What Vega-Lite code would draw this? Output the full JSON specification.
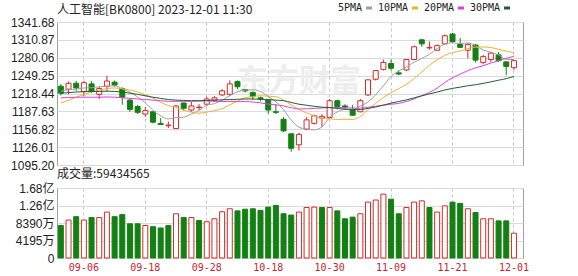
{
  "$schema": "https://vega.github.io/schema/vega-lite/v6.json",
  "background": "#ffffff",
  "padding": {"left": 5, "right": 5, "top": 2, "bottom": 0},
  "datasets": {
    "kline": [
      {"d": "09-01", "o": 1231, "h": 1235, "l": 1215, "c": 1219, "chg": -5, "v": 78000000, "5PMA": 1222, "10PMA": 1202, "20PMA": 1211, "30PMA": 1219},
      {"d": "09-04", "o": 1226, "h": 1239, "l": 1217, "c": 1236, "chg": 17, "v": 91000000, "5PMA": 1225, "10PMA": 1207, "20PMA": 1211.5, "30PMA": 1220},
      {"d": "09-05", "o": 1236, "h": 1240, "l": 1223, "c": 1228, "chg": -8, "v": 99000000, "5PMA": 1226, "10PMA": 1212, "20PMA": 1212, "30PMA": 1221},
      {"d": "09-06", "o": 1222, "h": 1240, "l": 1214, "c": 1237, "chg": 9, "v": 91000000, "5PMA": 1228, "10PMA": 1217, "20PMA": 1212, "30PMA": 1221.5},
      {"d": "09-07", "o": 1235, "h": 1240, "l": 1219, "c": 1222, "chg": -15, "v": 97000000, "5PMA": 1228.4, "10PMA": 1221, "20PMA": 1212, "30PMA": 1222},
      {"d": "09-08", "o": 1217, "h": 1230, "l": 1209, "c": 1227, "chg": 5, "v": 97000000, "5PMA": 1230.0, "10PMA": 1224, "20PMA": 1212, "30PMA": 1222},
      {"d": "09-11", "o": 1231, "h": 1249, "l": 1222, "c": 1240, "chg": 13, "v": 110000000, "5PMA": 1230.8, "10PMA": 1227, "20PMA": 1212.5, "30PMA": 1222.5},
      {"d": "09-12", "o": 1238, "h": 1241, "l": 1230, "c": 1233, "chg": -7, "v": 99000000, "5PMA": 1231.8, "10PMA": 1228, "20PMA": 1212, "30PMA": 1222},
      {"d": "09-13", "o": 1227, "h": 1229, "l": 1199, "c": 1212, "chg": -21, "v": 104000000, "5PMA": 1226.8, "10PMA": 1226.5, "20PMA": 1211, "30PMA": 1221},
      {"d": "09-14", "o": 1207, "h": 1209, "l": 1187, "c": 1191, "chg": -21, "v": 82000000, "5PMA": 1220.6, "10PMA": 1224.5, "20PMA": 1210, "30PMA": 1219},
      {"d": "09-15", "o": 1196, "h": 1199, "l": 1183, "c": 1186, "chg": -5, "v": 82000000, "5PMA": 1212.4, "10PMA": 1221.2, "20PMA": 1209, "30PMA": 1217},
      {"d": "09-18", "o": 1183, "h": 1195, "l": 1178, "c": 1189, "chg": 3, "v": 78000000, "5PMA": 1202.2, "10PMA": 1216.5, "20PMA": 1208, "30PMA": 1214.5},
      {"d": "09-19", "o": 1187, "h": 1187, "l": 1167, "c": 1169, "chg": -20, "v": 75000000, "5PMA": 1189.4, "10PMA": 1210.6, "20PMA": 1207, "30PMA": 1212},
      {"d": "09-20", "o": 1167, "h": 1176, "l": 1164, "c": 1165, "chg": -4, "v": 72000000, "5PMA": 1180.0, "10PMA": 1203.4, "20PMA": 1206, "30PMA": 1210},
      {"d": "09-21", "o": 1163, "h": 1170, "l": 1159, "c": 1164, "chg": -1, "v": 78000000, "5PMA": 1174.6, "10PMA": 1197.6, "20PMA": 1205, "30PMA": 1208},
      {"d": "09-22", "o": 1158, "h": 1199, "l": 1158, "c": 1197, "chg": 33, "v": 106000000, "5PMA": 1176.8, "10PMA": 1194.6, "20PMA": 1205, "30PMA": 1207},
      {"d": "09-25", "o": 1202, "h": 1203, "l": 1189, "c": 1193, "chg": -4, "v": 97000000, "5PMA": 1177.6, "10PMA": 1189.9, "20PMA": 1205, "30PMA": 1206.5},
      {"d": "09-26", "o": 1190, "h": 1204, "l": 1187, "c": 1197, "chg": 4, "v": 97000000, "5PMA": 1183.2, "10PMA": 1186.3, "20PMA": 1205, "30PMA": 1206},
      {"d": "09-27", "o": 1194, "h": 1200, "l": 1190, "c": 1195, "chg": -2, "v": 90000000, "5PMA": 1189.2, "10PMA": 1184.6, "20PMA": 1205.5, "30PMA": 1206},
      {"d": "09-28", "o": 1200, "h": 1213, "l": 1197, "c": 1209, "chg": 14, "v": 87000000, "5PMA": 1198.2, "10PMA": 1186.4, "20PMA": 1205.5, "30PMA": 1206.5},
      {"d": "10-09", "o": 1207, "h": 1214, "l": 1204, "c": 1211, "chg": 2, "v": 94000000, "5PMA": 1201.0, "10PMA": 1188.9, "20PMA": 1205.1, "30PMA": 1207},
      {"d": "10-10", "o": 1216, "h": 1226, "l": 1214, "c": 1223, "chg": 12, "v": 111000000, "5PMA": 1207.0, "10PMA": 1192.3, "20PMA": 1204.5, "30PMA": 1207.5},
      {"d": "10-11", "o": 1217, "h": 1241, "l": 1214, "c": 1235, "chg": 12, "v": 118000000, "5PMA": 1214.6, "10PMA": 1198.9, "20PMA": 1204.8, "30PMA": 1208},
      {"d": "10-12", "o": 1239, "h": 1241, "l": 1226, "c": 1230, "chg": -5, "v": 113000000, "5PMA": 1221.6, "10PMA": 1205.4, "20PMA": 1204.5, "30PMA": 1208.5},
      {"d": "10-13", "o": 1225, "h": 1226, "l": 1220, "c": 1223, "chg": -7, "v": 117000000, "5PMA": 1224.4, "10PMA": 1211.3, "20PMA": 1204.5, "30PMA": 1209},
      {"d": "10-16", "o": 1220, "h": 1222, "l": 1207, "c": 1213, "chg": -10, "v": 118000000, "5PMA": 1224.8, "10PMA": 1212.9, "20PMA": 1203.8, "30PMA": 1209},
      {"d": "10-17", "o": 1211, "h": 1213, "l": 1205, "c": 1209, "chg": -4, "v": 114000000, "5PMA": 1222.0, "10PMA": 1214.5, "20PMA": 1202.3, "30PMA": 1208.5},
      {"d": "10-18", "o": 1207, "h": 1209, "l": 1184, "c": 1190, "chg": -19, "v": 122000000, "5PMA": 1213.0, "10PMA": 1213.8, "20PMA": 1200.1, "30PMA": 1208},
      {"d": "10-19", "o": 1187, "h": 1200, "l": 1183, "c": 1186, "chg": -4, "v": 126000000, "5PMA": 1204.2, "10PMA": 1212.9, "20PMA": 1198.8, "30PMA": 1207},
      {"d": "10-20", "o": 1174, "h": 1178, "l": 1152, "c": 1154, "chg": -32, "v": 106000000, "5PMA": 1190.4, "10PMA": 1207.4, "20PMA": 1197.0, "30PMA": 1206.1},
      {"d": "10-23", "o": 1149, "h": 1149, "l": 1118, "c": 1124, "chg": -30, "v": 103000000, "5PMA": 1172.6, "10PMA": 1198.7, "20PMA": 1193.9, "30PMA": 1203.0},
      {"d": "10-24", "o": 1130, "h": 1151, "l": 1120, "c": 1148, "chg": 24, "v": 110000000, "5PMA": 1160.4, "10PMA": 1191.2, "20PMA": 1191.8, "30PMA": 1200.0},
      {"d": "10-25", "o": 1157, "h": 1178, "l": 1155, "c": 1173, "chg": 25, "v": 121000000, "5PMA": 1157.0, "10PMA": 1185.0, "20PMA": 1192.0, "30PMA": 1198.2},
      {"d": "10-26", "o": 1167, "h": 1182, "l": 1165, "c": 1180, "chg": 7, "v": 122000000, "5PMA": 1155.8, "10PMA": 1180.0, "20PMA": 1192.8, "30PMA": 1196.3},
      {"d": "10-27", "o": 1176, "h": 1183, "l": 1161, "c": 1179, "chg": -1, "v": 121000000, "5PMA": 1160.8, "10PMA": 1175.6, "20PMA": 1193.5, "30PMA": 1194.9},
      {"d": "10-30", "o": 1177, "h": 1209, "l": 1175, "c": 1206, "chg": 27, "v": 121000000, "5PMA": 1177.2, "10PMA": 1174.9, "20PMA": 1194.0, "30PMA": 1194.2},
      {"d": "10-31", "o": 1206, "h": 1208, "l": 1191, "c": 1196, "chg": -10, "v": 113000000, "5PMA": 1186.8, "10PMA": 1173.6, "20PMA": 1194.1, "30PMA": 1192.7},
      {"d": "11-01", "o": 1197, "h": 1200, "l": 1191, "c": 1195, "chg": -1, "v": 94000000, "5PMA": 1191.2, "10PMA": 1174.1, "20PMA": 1194.0, "30PMA": 1191.5},
      {"d": "11-02", "o": 1191, "h": 1199, "l": 1180, "c": 1181, "chg": -14, "v": 98000000, "5PMA": 1191.4, "10PMA": 1173.6, "20PMA": 1193.3, "30PMA": 1190.4},
      {"d": "11-03", "o": 1187, "h": 1209, "l": 1186, "c": 1206, "chg": 25, "v": 106000000, "5PMA": 1196.8, "10PMA": 1178.8, "20PMA": 1193.2, "30PMA": 1190.9},
      {"d": "11-06", "o": 1216, "h": 1243, "l": 1214, "c": 1242, "chg": 36, "v": 134000000, "5PMA": 1204.0, "10PMA": 1190.6, "20PMA": 1194.7, "30PMA": 1192.8},
      {"d": "11-07", "o": 1243, "h": 1259, "l": 1241, "c": 1258, "chg": 16, "v": 139000000, "5PMA": 1216.4, "10PMA": 1201.6, "20PMA": 1196.5, "30PMA": 1195.1},
      {"d": "11-08", "o": 1260, "h": 1277, "l": 1258, "c": 1272, "chg": 14, "v": 153000000, "5PMA": 1231.8, "10PMA": 1211.5, "20PMA": 1198.3, "30PMA": 1198.5},
      {"d": "11-09", "o": 1270, "h": 1277, "l": 1258, "c": 1262, "chg": -10, "v": 141000000, "5PMA": 1248.0, "10PMA": 1219.8, "20PMA": 1199.9, "30PMA": 1201.8},
      {"d": "11-10", "o": 1254, "h": 1258, "l": 1250, "c": 1252, "chg": -10, "v": 106000000, "5PMA": 1257.2, "10PMA": 1227.0, "20PMA": 1201.4, "30PMA": 1204.7},
      {"d": "11-13", "o": 1259, "h": 1278, "l": 1257, "c": 1277, "chg": 25, "v": 121000000, "5PMA": 1264.2, "10PMA": 1234.1, "20PMA": 1204.6, "30PMA": 1207.3},
      {"d": "11-14", "o": 1277, "h": 1301, "l": 1276, "c": 1299, "chg": 22, "v": 134000000, "5PMA": 1272.4, "10PMA": 1244.4, "20PMA": 1209.1, "30PMA": 1210.9},
      {"d": "11-15", "o": 1311, "h": 1312, "l": 1299, "c": 1304, "chg": 5, "v": 137000000, "5PMA": 1278.8, "10PMA": 1255.3, "20PMA": 1214.8, "30PMA": 1214.4},
      {"d": "11-16", "o": 1297, "h": 1308, "l": 1294, "c": 1298, "chg": -6, "v": 121000000, "5PMA": 1286.0, "10PMA": 1267.0, "20PMA": 1220.4, "30PMA": 1217.8},
      {"d": "11-17", "o": 1293, "h": 1303, "l": 1292, "c": 1301, "chg": 3, "v": 110000000, "5PMA": 1295.8, "10PMA": 1276.5, "20PMA": 1227.7, "30PMA": 1220.9},
      {"d": "11-20", "o": 1304, "h": 1320, "l": 1303, "c": 1318, "chg": 17, "v": 125000000, "5PMA": 1304.0, "10PMA": 1284.1, "20PMA": 1237.4, "30PMA": 1224.5},
      {"d": "11-21", "o": 1321, "h": 1323, "l": 1306, "c": 1308, "chg": -10, "v": 134000000, "5PMA": 1305.8, "10PMA": 1289.1, "20PMA": 1245.4, "30PMA": 1227.3},
      {"d": "11-22", "o": 1303, "h": 1314, "l": 1297, "c": 1298, "chg": -10, "v": 131000000, "5PMA": 1304.6, "10PMA": 1291.7, "20PMA": 1251.7, "30PMA": 1229.4},
      {"d": "11-23", "o": 1293, "h": 1305, "l": 1279, "c": 1303, "chg": 5, "v": 118000000, "5PMA": 1305.6, "10PMA": 1295.8, "20PMA": 1257.8, "30PMA": 1231.8},
      {"d": "11-24", "o": 1302, "h": 1304, "l": 1272, "c": 1276, "chg": -27, "v": 109000000, "5PMA": 1300.6, "10PMA": 1298.2, "20PMA": 1262.6, "30PMA": 1233.6},
      {"d": "11-27", "o": 1272, "h": 1285, "l": 1269, "c": 1282, "chg": 6, "v": 94000000, "5PMA": 1293.4, "10PMA": 1298.7, "20PMA": 1266.4, "30PMA": 1235.9},
      {"d": "11-28", "o": 1277, "h": 1290, "l": 1273, "c": 1288, "chg": 6, "v": 94000000, "5PMA": 1289.4, "10PMA": 1297.6, "20PMA": 1271.0, "30PMA": 1238.5},
      {"d": "11-29", "o": 1285, "h": 1290, "l": 1273, "c": 1275, "chg": -13, "v": 89000000, "5PMA": 1284.8, "10PMA": 1294.7, "20PMA": 1275.0, "30PMA": 1241.4},
      {"d": "11-30", "o": 1273, "h": 1273, "l": 1250, "c": 1265, "chg": -10, "v": 89000000, "5PMA": 1277.2, "10PMA": 1291.4, "20PMA": 1279.2, "30PMA": 1244.0},
      {"d": "12-01", "o": 1263, "h": 1276, "l": 1259, "c": 1275, "chg": 10, "v": 59434565, "5PMA": 1277.0, "10PMA": 1288.8, "20PMA": 1282.7, "30PMA": 1248.0}
    ]
  },
  "config": {
    "view": {"stroke": "#a0a0a0", "strokeWidth": 1},
    "axis": {
      "domain": false,
      "ticks": false,
      "title": null,
      "labelOverlap": false,
      "labelFont": "Liberation Sans, Noto Sans CJK SC",
      "labelFontSize": 12,
      "labelColor": "#222222",
      "gridColor": "#dadada",
      "gridWidth": 1
    },
    "title": {
      "font": "Noto Sans CJK SC",
      "fontSize": 12,
      "fontWeight": "normal",
      "color": "#222222",
      "anchor": "start",
      "frame": "group"
    }
  },
  "spacing": -5,
  "resolve": {"scale": {"y": "independent", "color": "independent"}},
  "vconcat": [
    {
      "width": 466,
      "height": 143,
      "title": {"text": "人工智能[BK0800] 2023-12-01 11:30", "offset": 8, "dy": 22},
      "data": {"name": "kline"},
      "encoding": {
        "x": {
          "field": "d",
          "type": "ordinal",
          "scale": {"type": "band", "paddingInner": 0, "paddingOuter": 0.34, "align": 0},
          "axis": {
            "values": ["09-06", "09-18", "09-28", "10-18", "10-30", "11-09", "11-21", "12-01"],
            "labels": false,
            "grid": true,
            "gridDash": [3, 3],
            "gridColor": "#c4c4c4",
            "bandPosition": 0.5
          }
        }
      },
      "layer": [
        {
          "data": {"values": [{"brand": "东方财富"}]},
          "mark": {"type": "text", "font": "Noto Sans CJK SC", "fontSize": 31, "fontWeight": "bold", "color": "#ededed"},
          "encoding": {
            "x": {"datum": "10-24"},
            "y": {"datum": 1239},
            "text": {"field": "brand"}
          }
        },
        {
          "mark": {"type": "rule", "strokeWidth": 1},
          "encoding": {
            "y": {
              "field": "l",
              "type": "quantitative",
              "scale": {"domain": [1095.2, 1341.68], "nice": false, "zero": false},
              "axis": {
                "values": [1095.2, 1126.01, 1156.82, 1187.63, 1218.44, 1249.25, 1280.06, 1310.87, 1341.68],
                "tickCount": 9,
                "format": ".2f",
                "grid": true,
                "labelOverlap": false,
                "labelPadding": 3,
                "minExtent": 51,
                "maxExtent": 51
              }
            },
            "y2": {"field": "h"},
            "color": {"condition": {"test": "datum.c >= datum.o", "value": "#d42a2a"}, "value": "#138013"}
          }
        },
        {
          "mark": {"type": "bar", "size": 5, "strokeWidth": 1},
          "encoding": {
            "y": {
              "field": "o",
              "type": "quantitative",
              "axis": {
                "values": [1095.2, 1126.01, 1156.82, 1187.63, 1218.44, 1249.25, 1280.06, 1310.87, 1341.68],
                "tickCount": 9,
                "format": ".2f",
                "grid": true,
                "labelOverlap": false,
                "labelPadding": 3,
                "minExtent": 51,
                "maxExtent": 51
              }
            },
            "y2": {"field": "c"},
            "fill": {"condition": {"test": "datum.c >= datum.o", "value": "#ffffff"}, "value": "#138013"},
            "stroke": {"condition": {"test": "datum.c >= datum.o", "value": "#d42a2a"}, "value": "#138013"}
          }
        },
        {
          "transform": [{"fold": ["5PMA", "10PMA", "20PMA", "30PMA"], "as": ["ma", "val"]}],
          "mark": {"type": "line", "strokeWidth": 1, "interpolate": "monotone"},
          "encoding": {
            "y": {
              "field": "val",
              "type": "quantitative",
              "axis": {
                "values": [1095.2, 1126.01, 1156.82, 1187.63, 1218.44, 1249.25, 1280.06, 1310.87, 1341.68],
                "tickCount": 9,
                "format": ".2f",
                "grid": true,
                "labelOverlap": false,
                "labelPadding": 3,
                "minExtent": 51,
                "maxExtent": 51
              }
            },
            "color": {
              "field": "ma",
              "type": "nominal",
              "scale": {"domain": ["5PMA", "10PMA", "20PMA", "30PMA"], "range": ["#9e9e9e", "#ebb232", "#e040e0", "#1e5e32"]},
              "legend": {
                "orient": "none",
                "legendX": 307,
                "legendY": -19,
                "direction": "horizontal",
                "title": null,
                "padding": 0,
                "symbolType": "stroke",
                "symbolStrokeWidth": 3,
                "symbolSize": 36,
                "labelFont": "DejaVu Sans Mono",
                "labelFontSize": 10,
                "labelColor": "#222222",
                "labelAlign": "right",
                "labelOffset": -12,
                "columnPadding": -1
              }
            }
          }
        }
      ]
    },
    {
      "width": 466,
      "height": 70,
      "title": {"text": "成交量:59434565", "offset": 1},
      "data": {"name": "kline"},
      "mark": {"type": "bar", "size": 5, "strokeWidth": 1},
      "encoding": {
        "x": {
          "field": "d",
          "type": "ordinal",
          "scale": {"type": "band", "paddingInner": 0, "paddingOuter": 0.34, "align": 0},
          "axis": {
            "values": ["09-06", "09-18", "09-28", "10-18", "10-30", "11-09", "11-21", "12-01"],
            "grid": true,
            "gridDash": [3, 3],
            "gridColor": "#c4c4c4",
            "bandPosition": 0.5,
            "labelAngle": 0,
            "labelFont": "DejaVu Sans Mono",
            "labelFontSize": 10,
            "labelColor": "#c0282d",
            "labelPadding": 4
          }
        },
        "y": {
          "field": "v",
          "type": "quantitative",
          "scale": {"domain": [0, 167800000], "nice": false},
          "axis": {
            "values": [0, 41950000, 83900000, 125850000, 167800000],
            "tickCount": 5,
            "labelExpr": "datum.value >= 1e8 ? format(datum.value / 1e8, '.2f') + '亿' : (datum.value == 0 ? '0' : format(datum.value / 1e4, 'd') + '万')",
            "grid": true,
            "labelPadding": 3,
            "minExtent": 51,
            "maxExtent": 51
          }
        },
        "fill": {"condition": {"test": "datum.chg >= 0", "value": "#ffffff"}, "value": "#138013"},
        "stroke": {"condition": {"test": "datum.chg >= 0", "value": "#d42a2a"}, "value": "#138013"}
      }
    }
  ]
}
